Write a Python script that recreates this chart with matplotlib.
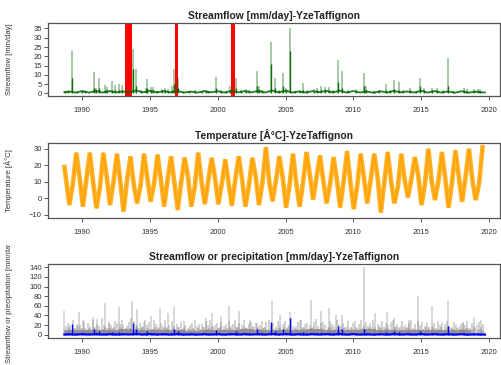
# Streamflow / temperature / precipitation panels, YzeTaffignon
import numpy as np
import matplotlib
matplotlib.use('Agg')
import matplotlib.pyplot as plt
from matplotlib.transforms import Bbox, TransformedBbox

plt.rcParams['font.family'] = ['Liberation Sans', 'DejaVu Sans']

# ---- streamflow events (date, peak, dense lower part) ----
q_dates = [1988.75, 1988.95, 1989.21, 1989.6, 1990.0, 1990.2, 1990.84, 1991.0, 1991.19,
           1991.7, 1991.85, 1992.2, 1992.44, 1992.67, 1992.9, 1993.73, 1993.98, 1994.3,
           1994.7, 1994.8, 1995.09, 1995.25, 1995.5, 1995.9, 1996.1, 1996.35, 1996.6,
           1996.76, 1997.08, 1997.4, 1997.9, 1998.3, 1998.8, 1999.1, 1999.3, 1999.85,
           2000.2, 2000.6, 2000.9, 2001.33, 2001.7, 2002.1, 2002.3, 2002.86, 2003.04,
           2003.3, 2003.93, 2004.2, 2004.5, 2004.84, 2005.0, 2005.36, 2005.7, 2006.1,
           2006.32, 2006.6, 2007.1, 2007.3, 2007.6, 2007.9, 2008.2, 2008.5, 2008.86,
           2009.2, 2009.6, 2010.2, 2010.76, 2010.96, 2011.5, 2011.9, 2012.4, 2012.7,
           2012.99, 2013.36, 2013.7, 2014.17, 2014.6, 2014.96, 2015.2, 2015.85, 2016.2,
           2016.6, 2017.0, 2017.4, 2018.17, 2018.4, 2018.9, 2019.2, 2019.36]
q_peak = [1.5, 1.2, 23, 0.8, 1.2, 1.5, 11.3, 3, 8,
          4.5, 3.5, 6.5, 4.5, 5, 4.5, 24, 13, 2,
          3, 7.7, 3.5, 3.5, 1.5, 2.5, 3, 2.5, 4,
          13, 8, 1, 1.5, 2, 1.5, 2, 1.5, 9,
          2, 1.5, 4, 8, 2, 2.5, 2, 12, 4,
          2, 27.5, 8.4, 2, 11, 3, 35.5, 1.5, 2,
          5.8, 2, 2.5, 3, 4, 3.5, 3.5, 2, 18.2,
          12, 2, 2.5, 11, 4, 1.5, 2, 5, 2,
          7, 6, 2, 3, 1.5, 8, 3, 3, 3,
          2, 18.9, 1.5, 3, 2.5, 2.5, 2.5, 2.5]
q_core = [1, 1, 8.4, 0.6, 1, 1, 3, 2, 3,
          2, 2, 2, 2, 2, 2, 13.2, 4, 1.5,
          2, 3, 2, 2, 1, 1.5, 2, 1.5, 2,
          5, 3, 0.8, 1, 1.5, 1, 1.5, 1, 3,
          1.5, 1, 2, 3, 1.5, 1.5, 1.5, 4, 2,
          1.5, 15.8, 3, 1.5, 4, 2, 23, 1, 1.5,
          2, 1.5, 1.5, 2, 2, 2, 2, 1.5, 6,
          3, 1.5, 1.5, 4, 2, 1, 1.5, 2, 1.5,
          2.5, 2, 1.5, 2, 1, 4, 2, 2, 2,
          1.5, 4, 1, 2, 1.5, 1.5, 1.5, 1.5]
# base flow (winter / summer of each year)
qb_dates = [1988.67, 1989.0, 1989.5, 1990.0, 1990.5, 1991.0, 1991.5, 1992.0, 1992.5,
            1993.0, 1993.5, 1994.0, 1994.5, 1995.0, 1995.5, 1996.0, 1996.5, 1997.0,
            1997.5, 1998.0, 1998.5, 1999.0, 1999.5, 2000.0, 2000.5, 2001.0, 2001.5,
            2002.0, 2002.5, 2003.0, 2003.5, 2004.0, 2004.5, 2005.0, 2005.5, 2006.0,
            2006.5, 2007.0, 2007.5, 2008.0, 2008.5, 2009.0, 2009.5, 2010.0, 2010.5,
            2011.0, 2011.5, 2012.0, 2012.5, 2013.0, 2013.5, 2014.0, 2014.5, 2015.0,
            2015.5, 2016.0, 2016.5, 2017.0, 2017.5, 2018.0, 2018.5, 2019.0, 2019.73]
qb_vals = [0.6, 1.0, 0.4, 1.2, 0.4, 1.3, 0.4, 1.2, 0.5,
           1.0, 0.6, 1.5, 0.5, 1.4, 0.5, 1.2, 0.5, 1.3,
           0.4, 0.9, 0.4, 1.2, 0.5, 1.1, 0.4, 1.3, 0.5,
           1.2, 0.5, 1.4, 0.4, 1.5, 0.5, 1.5, 0.4, 1.0,
           0.4, 1.2, 0.6, 1.3, 0.5, 1.4, 0.4, 1.2, 0.4,
           1.0, 0.3, 1.1, 0.4, 1.3, 0.5, 1.0, 0.4, 1.4,
           0.4, 1.2, 0.4, 1.0, 0.3, 1.1, 0.3, 0.9, 0.4]

# periods marked in red on the streamflow panel
red_start = [1993.17, 1996.84, 2001.0]
red_end = [1993.63, 1997.06, 2001.3]

# ---- temperature: winter lows, spring, summer highs, autumn ----
t_years = list(range(1989, 2020))
t_winter = [-4, -5, -6, -4, -8, -3, -2, -5, -7, -5, -3.5, -3.5, -4.5, -5, -4, -1.7,
            -5.6, -5, -0.7, -3, -5.6, -6.5, -3, -8.6, -3, 0.5, -4, -1, -5.6, -2, -1]
t_spring = [9, 12, 7, 10, 11, 8, 9, 12, 10, 7, 11, 9, 12, 8, 10, 11,
            8, 10, 13, 9, 11, 8, 12, 10, 7, 12, 9, 11, 10, 13, 9]
t_summer = [27.6, 27.6, 27.5, 27, 25.4, 27, 26.4, 25.4, 24.7, 27.6, 24.5, 23.6, 25.4,
            24.5, 31, 25.5, 27, 28, 26, 25, 28.6, 27, 27, 28, 27, 25, 30, 28, 29, 30, 31]
t_autumn = [12, 9, 13, 10, 8, 12, 11, 9, 13, 10, 12, 9, 11, 13, 10, 12,
            9, 14, 10, 11, 9, 12, 13, 10, 11, 14, 10, 12, 13, 11]
t_start = (1988.67, 19)
t_first_autumn = 11

# ---- precipitation: largest daily values ----
p_dates = [1988.67, 1989.1, 1989.78, 1990.07, 1990.8, 1991.1, 1991.7, 1992.0, 1992.67,
           1993.0, 1993.65, 1994.06, 1994.52, 1995.07, 1995.73, 1996.3, 1996.8, 1997.5,
           1998.3, 1999.1, 1999.58, 2000.24, 2000.79, 2001.53, 2002.37, 2002.86, 2003.97,
           2004.6, 2005.33, 2006.1, 2006.9, 2007.6, 2008.2, 2008.7, 2009.2, 2010.76,
           2011.6, 2012.5, 2013.0, 2014.1, 2014.8, 2015.8, 2017.0, 2018.1, 2018.9, 2019.4]
p_vals = [50, 20, 48, 30, 37, 33, 66, 27, 57,
          20, 70, 53, 27, 38, 55, 45, 57, 28,
          30, 35, 45, 38, 59, 50, 30, 25, 71,
          40, 48, 30, 72, 50, 55, 40, 40, 141,
          45, 48, 35, 30, 81, 60, 71, 25, 37, 30]
# other rainy days, six per year
p_bg_offsets = [0.05, 0.2, 0.36, 0.52, 0.68, 0.84]
p_bg = [
    [18, 25, 12, 30, 15, 22], [20, 14, 28, 10, 25, 18], [30, 16, 22, 12, 35, 20],
    [15, 25, 20, 14, 28, 24], [22, 30, 12, 18, 26, 34], [28, 20, 15, 24, 18, 30],
    [20, 26, 12, 30, 22, 16], [25, 18, 30, 14, 20, 28], [18, 22, 16, 26, 12, 20],
    [15, 20, 25, 12, 18, 22], [22, 16, 28, 20, 30, 18], [20, 24, 14, 26, 18, 22],
    [28, 18, 22, 30, 16, 24], [20, 30, 14, 22, 26, 18], [24, 16, 20, 28, 14, 26],
    [30, 18, 24, 16, 28, 20], [22, 28, 14, 20, 34, 18], [18, 26, 30, 16, 22, 25],
    [20, 14, 26, 32, 18, 24], [26, 20, 16, 28, 22, 18], [30, 22, 18, 25, 16, 28],
    [16, 24, 28, 14, 22, 30], [20, 26, 18, 24, 30, 16], [22, 18, 28, 16, 24, 20],
    [26, 30, 16, 22, 18, 28], [20, 16, 24, 30, 14, 22], [28, 20, 26, 18, 24, 16],
    [18, 24, 14, 28, 20, 26], [22, 28, 18, 16, 26, 20], [16, 22, 26, 20, 28, 14],
    [24, 18, 20, 26, 16, 22]]
# more small rainy days, shifted between the ones above
p_bg2_offsets = [0.12, 0.28, 0.44, 0.6, 0.76, 0.92]
p_bg2 = [
    [10, 16, 8, 14, 12, 18], [12, 8, 15, 10, 14, 11], [14, 10, 18, 9, 12, 16],
    [9, 15, 12, 16, 10, 13], [16, 11, 14, 8, 15, 12], [12, 18, 10, 14, 16, 9],
    [15, 9, 13, 17, 11, 14], [10, 14, 16, 12, 9, 15], [13, 16, 9, 12, 15, 10],
    [11, 13, 15, 9, 14, 12], [16, 10, 12, 15, 11, 17], [9, 14, 17, 11, 13, 15],
    [14, 12, 10, 16, 15, 11], [12, 17, 14, 10, 9, 16], [15, 11, 13, 14, 17, 10],
    [10, 15, 12, 9, 14, 13], [17, 12, 16, 11, 10, 14], [11, 9, 14, 15, 13, 12],
    [14, 16, 10, 13, 12, 15], [12, 10, 15, 17, 9, 11], [9, 13, 11, 14, 16, 12],
    [15, 12, 17, 10, 13, 14], [13, 9, 14, 16, 11, 10], [16, 14, 10, 12, 15, 13],
    [10, 12, 16, 14, 9, 17], [14, 15, 11, 9, 13, 12], [12, 10, 13, 16, 14, 11],
    [15, 13, 9, 12, 17, 10], [11, 16, 14, 13, 10, 15], [13, 11, 12, 15, 14, 9],
    [12, 14, 10, 11, 9, 8]]
p_floor = [9, 10, 9, 10, 11, 9, 10, 10, 9, 8, 10, 9, 10, 11, 9, 10, 9, 10, 11, 10,
           9, 10, 11, 9, 10, 9, 10, 9, 10, 9, 8]

# ---- figure ----
W, H = 501, 365
fig = plt.figure(figsize=(W / 100, H / 100), dpi=100)

def box(y0, y1):
    return [48 / W, 1 - y1 / H, (500 - 48) / W, (y1 - y0) / H]

ax1 = fig.add_axes(box(23, 96))
ax2 = fig.add_axes(box(143, 217.5))
ax3 = fig.add_axes(box(264, 337.5))

edge = '#555555'
for ax in (ax1, ax2, ax3):
    ax.set_xlim(1987.46, 2020.84)
    ax.set_xticks([1990, 1995, 2000, 2005, 2010, 2015, 2020])
    for s in ax.spines.values():
        s.set_color(edge)
        s.set_linewidth(0.9)
    ax.tick_params(axis='x', length=3, width=0.7, color=edge, labelsize=5.5,
                   labelcolor='#333333', pad=5)
    ax.tick_params(axis='y', length=3, width=0.7, color=edge, labelsize=5.5,
                   labelcolor='#333333', pad=1.5)
    ax.yaxis.set_label_coords(-0.077, 0.5)

# streamflow
ax1.plot(qb_dates, qb_vals, color='darkgreen', lw=1.3, alpha=0.85)
ax1.vlines(q_dates, 0, q_peak, color='darkgreen', lw=1.1, alpha=0.45)
ax1.vlines(q_dates, 0, q_core, color='darkgreen', lw=1.0, alpha=0.9)
for a, b in zip(red_start, red_end):
    ax1.axvspan(a, b, color='red', lw=0)
ax1.set_ylim(-1.46, 37.96)
ax1.set_yticks(range(0, 36, 5))
ax1.set_ylabel('Streamflow [mm/day]', fontsize=5.5, color='#333333')
ax1.set_title('Streamflow [mm/day]-YzeTaffignon', fontsize=7.4, fontweight='bold',
              color='#222222', pad=3)

# temperature zigzag
t_x = [t_start[0], 1988.8]
t_y = [t_start[1], t_first_autumn]
for i, yr in enumerate(t_years):
    t_x += [yr + 0.04, yr + 0.3, yr + 0.55]
    t_y += [t_winter[i], t_spring[i], t_summer[i]]
    if i < len(t_autumn):
        t_x.append(yr + 0.8)
        t_y.append(t_autumn[i])
ax2.plot(t_x, t_y, color='orange', lw=3.3, alpha=0.85, solid_joinstyle='miter')
ax2.plot(t_x, t_y, color='#ff9f00', lw=0.9, alpha=0.9)
ax2.set_ylim(-11.6, 33.5)
ax2.set_yticks([-10, 0, 10, 20, 30])
ax2.set_ylabel('Temperature [Â°C]', fontsize=5.5, color='#333333')
ax2.set_title('Temperature [Â°C]-YzeTaffignon', fontsize=7.4, fontweight='bold',
              color='#222222', pad=3)

# precipitation + streamflow
fy = [1988.67 + i for i in range(len(p_floor))]
ax3.fill_between(fy, 0, p_floor, step='post', color='#8a8a8a', alpha=0.75, lw=0)
for i, row in enumerate(p_bg):
    yr = 1988.75 + i
    ax3.vlines([yr + o for o in p_bg_offsets], 0, row, color='gray', lw=1.1, alpha=0.45)
for i, row in enumerate(p_bg2):
    yr = 1988.75 + i
    ax3.vlines([yr + o for o in p_bg2_offsets], 0, row, color='gray', lw=1.1, alpha=0.45)
ax3.vlines(p_dates, 0, p_vals, color='gray', lw=1.1, alpha=0.4)
ax3.plot(qb_dates, qb_vals, color='blue', lw=1.6)
ax3.vlines(q_dates, 0, q_peak, color='blue', lw=1.0)
ax3.set_ylim(-5.6, 146.6)
ax3.set_yticks(range(0, 141, 20))
lab = ax3.set_ylabel('Streamflow or precipitation [mm/day]', fontsize=5.5, color='#333333')
lab.set_clip_box(TransformedBbox(Bbox.from_extents(0, 0, 1, 1 - 245 / H), fig.transFigure))
lab.set_clip_on(True)
ax3.set_title('Streamflow or precipitation [mm/day]-YzeTaffignon', fontsize=7.4,
              fontweight='bold', color='#222222', pad=3)

fig.savefig('out.png', dpi=100)
